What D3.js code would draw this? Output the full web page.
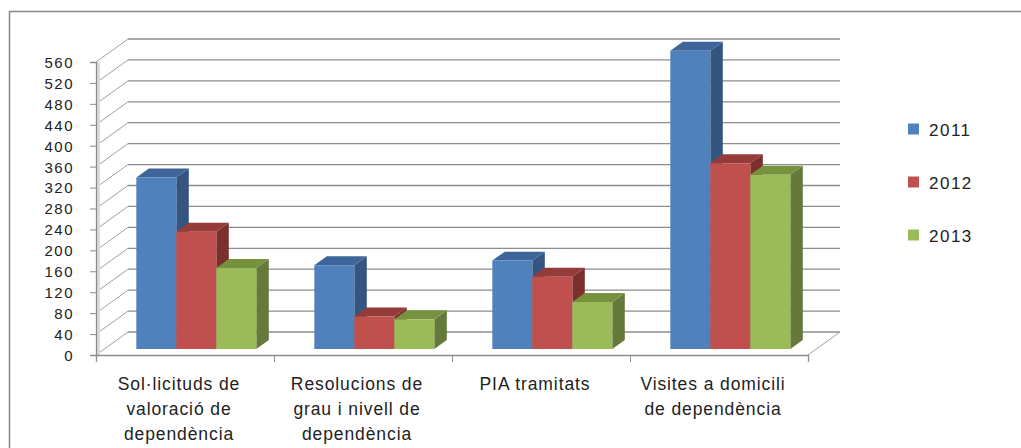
<!DOCTYPE html>
<html lang="ca">
<head>
<meta charset="UTF-8" />
<title>Dependència 2011-2013</title>
<script src="https://d3js.org/d3.v7.min.js"></script>
<style>
    body { margin: 0; background: #fff; }
    svg { display: block; }
    .lbl { font-family: "Liberation Sans", sans-serif; fill: #222; }
</style>
</head>
<body>
<svg width="1021" height="448"></svg>
<script>
    const categories = [
        ["Sol·licituds de", "valoració de", "dependència"],
        ["Resolucions de", "grau i nivell de", "dependència"],
        ["PIA tramitats"],
        ["Visites a domicili", "de dependència"]
    ];
    const seriesNames = ["2011", "2012", "2013"];
    const values2011 = [328, 160, 169, 570];
    const values2012 = [224, 62, 138, 355];
    const values2013 = [155, 57, 90, 333];
    const yTicks = [0, 40, 80, 120, 160, 200, 240, 280, 320, 360, 400, 440, 480, 520, 560];

    const seriesValues = [values2011, values2012, values2013];
    const colors = [
        { front: "#4f81bd", side: "#34557f", top: "#3e6599" },
        { front: "#c0504d", side: "#7c302e", top: "#953b39" },
        { front: "#9bbb59", side: "#65793a", top: "#77923f" }
    ];

    const svg = d3.select("svg");

    // depth of the 3d box
    const depthX = 32, depthY = -23;
    const z0 = 0.26, z1 = 0.65;

    const x0 = d3.scaleBand().domain(d3.range(categories.length)).range([96, 808]);
    const x1 = d3.scaleBand().domain(d3.range(seriesNames.length)).range([32, 152]);
    const y = d3.scaleLinear().domain([0, 560]).range([355, 62]);

    const P = (px, py, z) => [px + z * depthX, py + z * depthY];
    const pts = arr => arr.map(p => p.join(",")).join(" ");

    // chart border
    svg.append("rect")
        .attr("x", 9.5).attr("y", 11.5)
        .attr("width", 1030).attr("height", 460)
        .attr("fill", "none").attr("stroke", "#878787").attr("stroke-width", 1.5);

    const grid = svg.append("g").attr("stroke", "#8c8c8c").attr("stroke-width", 1.3).attr("fill", "none");

    // back wall gridlines + side wall diagonals
    yTicks.forEach(t => {
        const a = P(x0.range()[0], y(t), 1), b = P(x0.range()[1], y(t), 1);
        grid.append("line").attr("x1", a[0]).attr("y1", a[1]).attr("x2", b[0]).attr("y2", b[1]);
        grid.append("line").attr("x1", x0.range()[0]).attr("y1", y(t)).attr("x2", a[0]).attr("y2", a[1])
            .attr("stroke", "#a0a0a0").attr("stroke-width", 1);
    });

    // floor right edge
    {
        const a = P(x0.range()[1], y(0), 0), b = P(x0.range()[1], y(0), 1);
        grid.append("line").attr("x1", a[0]).attr("y1", a[1]).attr("x2", b[0]).attr("y2", b[1])
            .attr("stroke", "#a0a0a0").attr("stroke-width", 1);
    }

    // side wall light band
    svg.append("rect").attr("x", 97).attr("y", y(560)).attr("width", 3).attr("height", y(0) - y(560))
        .attr("fill", "#dcdcdc");

    // bars
    const bars = svg.append("g");
    categories.forEach((c, ci) => {
        seriesNames.forEach((s, si) => {
            const v = seriesValues[si][ci];
            const xl = x0(ci) + x1(si), xr = xl + x1.bandwidth();
            const yt = y(v), yb = y(0);
            const fl = P(xl, yb, z0), fr = P(xr, yb, z0), ftl = P(xl, yt, z0), ftr = P(xr, yt, z0);
            const br = P(xr, yb, z1), btl = P(xl, yt, z1), btr = P(xr, yt, z1);
            const col = colors[si];
            bars.append("polygon").attr("points", pts([fr, br, btr, ftr])).attr("fill", col.side);
            bars.append("polygon").attr("points", pts([ftl, ftr, btr, btl])).attr("fill", col.top);
            bars.append("polygon").attr("points", pts([fl, fr, ftr, ftl])).attr("fill", col.front);
        });
    });

    // axes
    const yAxis = svg.append("g").attr("transform", "translate(96,0)")
        .call(d3.axisLeft(y).tickValues(yTicks).tickSize(6));
    yAxis.select(".domain").attr("stroke", "#8c8c8c").attr("stroke-width", 1.3);
    yAxis.selectAll(".tick line").attr("stroke", "#8c8c8c");
    yAxis.selectAll(".tick text")
        .attr("class", "lbl")
        .attr("x", -22).attr("dy", "0.36em")
        .attr("text-anchor", "end")
        .attr("font-size", 15)
        .attr("letter-spacing", 1.5);

    const xAxis = svg.append("g").attr("transform", `translate(0,${y(0)})`)
        .call(d3.axisBottom(d3.scaleLinear().domain([0, 4]).range(x0.range()))
            .ticks(4).tickSize(7).tickFormat(""));
    xAxis.select(".domain").attr("stroke", "#8c8c8c").attr("stroke-width", 1.3);
    xAxis.selectAll(".tick line").attr("stroke", "#8c8c8c");

    // category labels
    categories.forEach((lines, ci) => {
        const t = svg.append("text").attr("class", "lbl").attr("font-size", 17.5)
            .attr("letter-spacing", 0.9).attr("text-anchor", "middle");
        lines.forEach((ln, li) => {
            t.append("tspan").attr("x", x0(ci) + x0.bandwidth() / 2 - 6).attr("y", 390 + li * 25).text(ln);
        });
    });

    // legend
    const legend = svg.append("g");
    seriesNames.forEach((s, si) => {
        const cy = 129 + si * 53;
        legend.append("rect").attr("x", 908).attr("y", cy - 5.5).attr("width", 11).attr("height", 11)
            .attr("fill", colors[si].front);
        legend.append("text").attr("class", "lbl").attr("x", 929).attr("y", cy + 6.5)
            .attr("font-size", 17).attr("letter-spacing", 1.5).text(s);
    });
</script>
</body>
</html>
